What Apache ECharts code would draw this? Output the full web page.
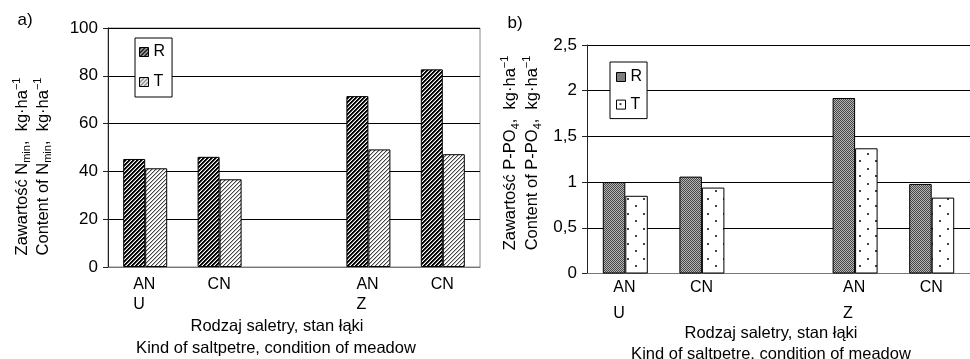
<!DOCTYPE html>
<html>
<head>
<meta charset="utf-8">
<script src="https://cdn.jsdelivr.net/npm/echarts@6/dist/echarts.min.js"></script>
<style>
  html, body { margin: 0; padding: 0; background: #fff; }
  #chart { width: 970px; height: 359px; }
</style>
</head>
<body>
<div id="chart"></div>
<script>
// Categories: kind of saltpetre (AN / CN) and meadow condition (U / Z); the middle slot is an empty spacer
const categories = ['AN\nU', 'CN', '', 'AN\nZ', 'CN'];
const seriesNames = ['R', 'T'];

// a) Nmin content, kg·ha-1
const nminR = [45.2, 46.1, null, 71.5, 82.7];
const nminT = [41.3, 36.7, null, 49.2, 47.2];

// b) P-PO4 content, kg·ha-1
const ppo4R = [1.00, 1.06, null, 1.92, 0.98];
const ppo4T = [0.85, 0.94, null, 1.37, 0.83];

// value-axis ticks
const nminAxis = { min: 0, max: 100, interval: 20 };
const ppo4Axis = { min: 0, max: 2.5, interval: 0.5 };

const FONT = "'Liberation Sans', Arial, sans-serif";

// small repeating fill tiles for the bars
function tile(w, h, paint) {
  const c = document.createElement('canvas');
  c.width = w; c.height = h;
  const ctx = c.getContext('2d');
  ctx.fillStyle = '#fff';
  ctx.fillRect(0, 0, w, h);
  for (let y = 0; y < h; y++) {
    for (let x = 0; x < w; x++) {
      const col = paint(x, y);
      if (col) { ctx.fillStyle = col; ctx.fillRect(x, y, 1, 1); }
    }
  }
  return { image: c, repeat: 'repeat' };
}
const hatchDark = tile(4, 4, (x, y) => { const d = (x + y) % 4; return d < 2 ? '#000' : (d === 2 ? '#777' : null); });
const hatchLight = tile(4, 4, (x, y) => { const d = (x + y) % 4; return d === 0 ? '#444' : (d === 1 ? '#bbb' : null); });
const stipple = tile(2, 2, (x, y) => ((x + y) % 2 === 0 ? '#484848' : '#b4b4b4'));
const dots = tile(16, 15, (x, y) => {
  if ((x === 3 || x === 4) && (y === 3 || y === 4)) return '#444';
  if ((x === 11 || x === 12) && (y === 10 || y === 11)) return '#444';
  return null;
});

const barBorder = { borderColor: '#000', borderWidth: 1 };

function catAxis(gridIndex, margin, lineHeight) {
  return {
    type: 'category', gridIndex, data: categories,
    axisTick: { show: false },
    axisLine: { lineStyle: { color: '#777', width: 1 } },
    axisLabel: {
      interval: 0, margin, color: '#000', fontFamily: FONT, fontSize: 16, lineHeight,
      formatter: v => v.split('\n').map(s => '{c|' + s + '}').join('\n'),
      rich: { c: { width: 24, align: 'left', fontSize: 16, lineHeight, fontFamily: FONT, color: '#000' } }
    }
  };
}

function valAxis(gridIndex, cfg) {
  return {
    type: 'value', gridIndex, min: cfg.min, max: cfg.max, interval: cfg.interval,
    axisLine: { show: true, lineStyle: { color: '#222' } },
    axisTick: { show: true, length: 5, lineStyle: { color: '#222' } },
    splitLine: { show: true, showMinLine: false, lineStyle: { color: '#000', width: 1 } },
    axisLabel: {
      margin: 10, color: '#000', fontFamily: FONT, fontSize: 17,
      formatter: v => String(v).replace('.', ',')
    }
  };
}

const legendBase = {
  orient: 'vertical', icon: 'rect', itemWidth: 9, itemHeight: 9,
  borderColor: '#000', borderWidth: 1, backgroundColor: '#fff',
  selectedMode: false,
  textStyle: { fontFamily: FONT, fontSize: 16, color: '#000' }
};

const richTitle = {
  sub: { fontSize: 11, lineHeight: 12, verticalAlign: 'bottom', fontFamily: FONT, fill: '#000' },
  sup: { fontSize: 11, lineHeight: 12, verticalAlign: 'top', fontFamily: FONT, fill: '#000' }
};

function textEl(x, y, text, size, extra) {
  return Object.assign({
    type: 'text', x, y, silent: true,
    style: Object.assign({
      text, fill: '#000', fontFamily: FONT, fontSize: size,
      textAlign: 'center', textVerticalAlign: 'middle'
    }, (extra && extra.style) || {})
  }, extra && extra.el || {});
}

const option = {
  animation: false,
  backgroundColor: '#fff',
  textStyle: { fontFamily: FONT, color: '#000' },
  grid: [
    { left: 108, top: 28, width: 372, height: 239, show: true, borderColor: '#888', borderWidth: 1, backgroundColor: 'transparent' },
    { left: 587, top: 45, width: 390, height: 228.5 }
  ],
  xAxis: [catAxis(0, 8, 20), catAxis(1, 1, 26)],
  yAxis: [valAxis(0, nminAxis), valAxis(1, ppo4Axis)],
  legend: [
    Object.assign({}, legendBase, {
      left: 135, top: 38, padding: [6, 7, 7, 4], itemGap: 14,
      data: [
        { name: seriesNames[0], itemStyle: Object.assign({ color: hatchDark }, barBorder) },
        { name: seriesNames[1], itemStyle: Object.assign({ color: hatchLight }, barBorder) }
      ]
    }),
    Object.assign({}, legendBase, {
      left: 610, top: 62, padding: [7, 5, 6, 6], itemGap: 11.6,
      data: [
        { name: seriesNames[0], itemStyle: Object.assign({ color: stipple }, barBorder) },
        { name: seriesNames[1], itemStyle: Object.assign({ color: dots }, barBorder) }
      ]
    })
  ],
  series: [
    { name: seriesNames[0], type: 'bar', xAxisIndex: 0, yAxisIndex: 0, data: nminR, barWidth: 22, barGap: '0%',
      itemStyle: Object.assign({ color: hatchDark }, barBorder) },
    { name: seriesNames[1], type: 'bar', xAxisIndex: 0, yAxisIndex: 0, data: nminT, barWidth: 22, barGap: '0%',
      itemStyle: Object.assign({ color: hatchLight }, barBorder) },
    { name: seriesNames[0], type: 'bar', xAxisIndex: 1, yAxisIndex: 1, data: ppo4R, barWidth: 22.5, barGap: '0%',
      itemStyle: Object.assign({ color: stipple }, barBorder) },
    { name: seriesNames[1], type: 'bar', xAxisIndex: 1, yAxisIndex: 1, data: ppo4T, barWidth: 22.5, barGap: '0%',
      itemStyle: Object.assign({ color: dots }, barBorder) }
  ],
  graphic: [
    textEl(25, 20, 'a)', 17),
    textEl(515, 23, 'b)', 17),
    textEl(32.5, 166.5,
      'Zawartość N{sub|min},  kg·ha{sup|−1}\nContent of N{sub|min},  kg·ha{sup|−1}', 16.5,
      { el: { rotation: Math.PI / 2 }, style: { lineHeight: 21, rich: richTitle } }),
    textEl(521, 153,
      'Zawartość P-PO{sub|4},  kg·ha{sup|−1}\nContent of P-PO{sub|4},  kg·ha{sup|−1}', 16.5,
      { el: { rotation: Math.PI / 2 }, style: { lineHeight: 22, rich: richTitle } }),
    textEl(277, 326, 'Rodzaj saletry, stan łąki', 16.5),
    textEl(276, 348, 'Kind of saltpetre, condition of meadow', 16.5),
    textEl(771, 333, 'Rodzaj saletry, stan łąki', 16.5),
    textEl(771, 354, 'Kind of saltpetre, condition of meadow', 16.5)
  ]
};

const chart = echarts.init(document.getElementById('chart'), null, { renderer: 'canvas' });
chart.setOption(option);
</script>
</body>
</html>
